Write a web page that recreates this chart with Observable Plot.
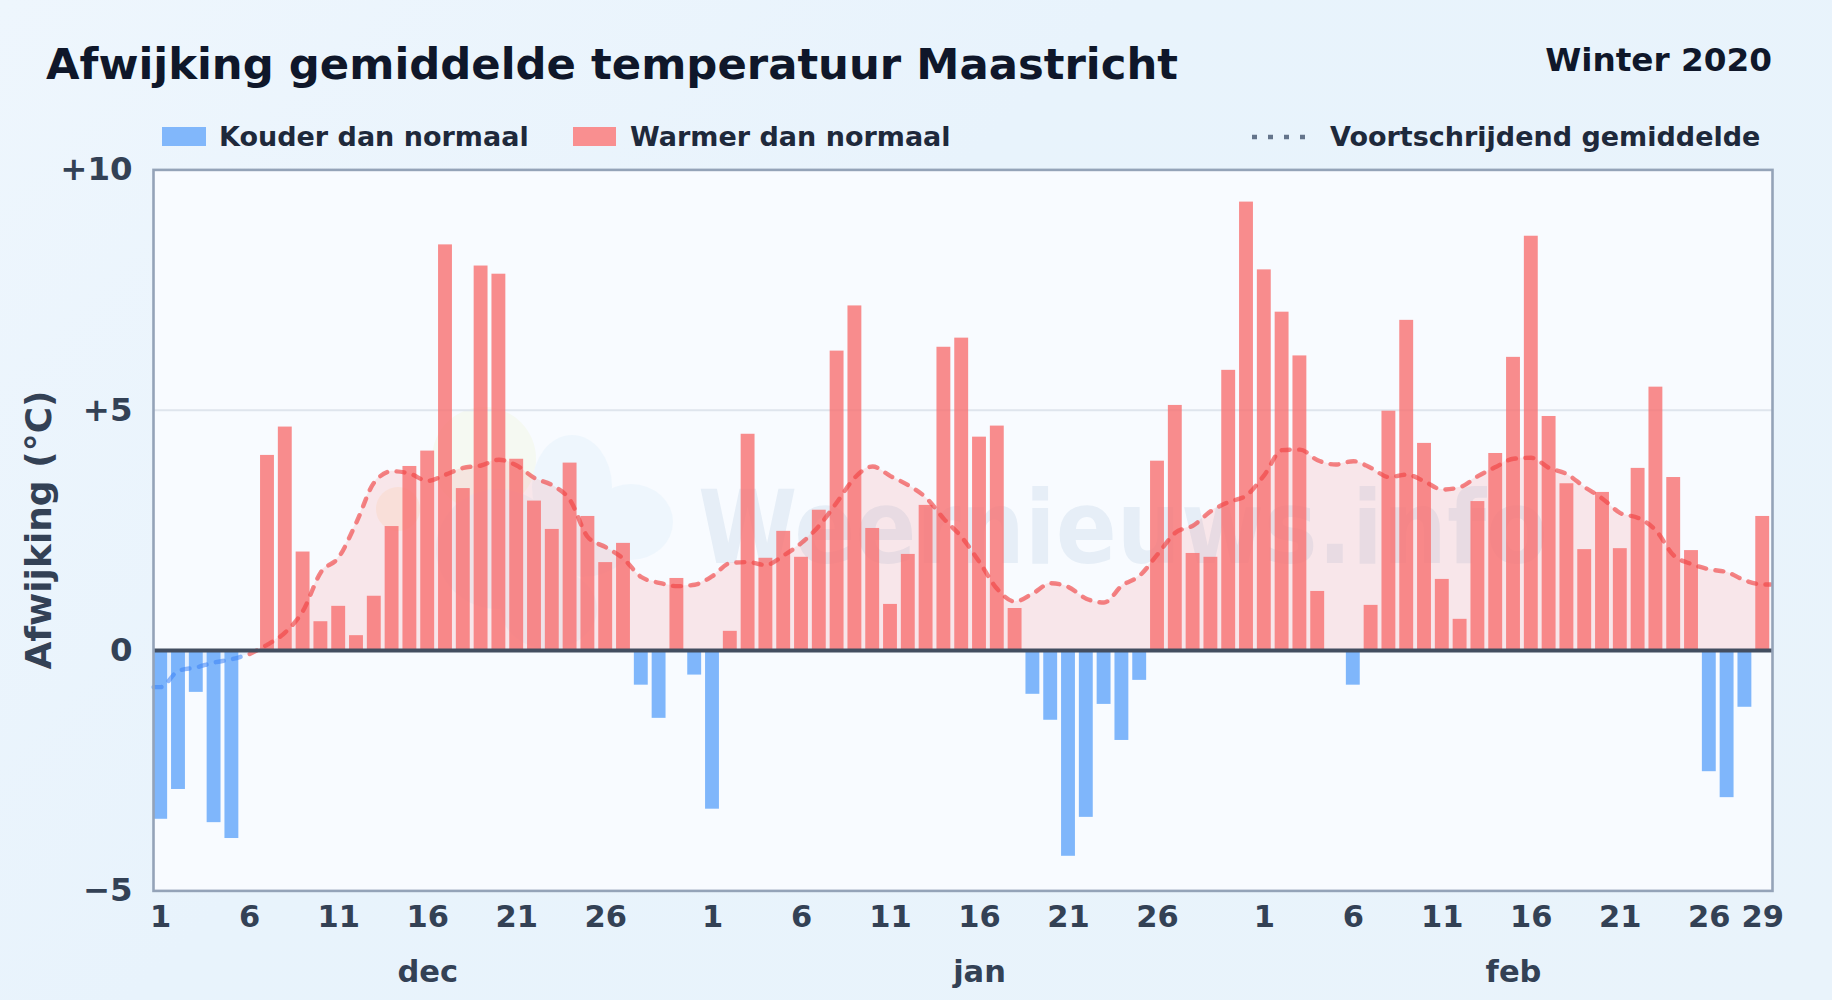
<!DOCTYPE html>
<html lang="nl">
<head>
<meta charset="utf-8">
<script src="https://cdn.jsdelivr.net/npm/d3@7"></script>
<script src="https://cdn.jsdelivr.net/npm/@observablehq/plot@0.6"></script>
<style>
  html,body{margin:0;padding:0;width:1832px;height:1000px;overflow:hidden;background:linear-gradient(135deg,#eef6fd 0%,#e8f3fc 40%,#e9f3fb 100%);font-family:"DejaVu Sans",sans-serif;font-weight:700}
  #page{position:relative;width:1832px;height:1000px}
  .a{position:absolute;white-space:nowrap;line-height:1}
  #title{left:46px;top:43px;font-size:43.35px;color:#0f172a}
  #period{right:60px;top:44px;font-size:32.7px;color:#0f172a}
  .lg{top:123px;font-size:27px;color:#1e293b}
  .sw{position:absolute;top:127px;height:19px}
  #bg{position:absolute;left:153px;top:169px;width:1619px;height:721px;background:#f8fbff;overflow:hidden}
  #chart{position:absolute;left:0;top:150.6px}
  #chart svg{display:block}
  #ylabel{position:absolute;left:0;top:0;width:0;height:0}
  #ylabel span{position:absolute;white-space:nowrap;font-size:36px;color:#334155;transform:translate(-50%,-50%) rotate(-90deg);left:38px;top:530px}
</style>
</head>
<body>
<div id="page">
  <div id="title" class="a">Afwijking gemiddelde temperatuur Maastricht</div>
  <div id="period" class="a">Winter 2020</div>
  <div class="sw" style="left:162px;width:44px;background:#81b7fb"></div>
  <div class="a lg" style="left:219px">Kouder dan normaal</div>
  <div class="sw" style="left:573px;width:43px;background:#f98f90"></div>
  <div class="a lg" style="left:630px">Warmer dan normaal</div>
  <svg class="a" style="left:1250px;top:130px" width="60" height="14"><line x1="2" x2="58" y1="7" y2="7" stroke="#64748b" stroke-width="4.5" stroke-dasharray="5 11"/></svg>
  <div class="a lg" style="left:1330px">Voortschrijdend gemiddelde</div>
  <div id="bg">
    <svg width="1619" height="721" style="position:absolute;left:0;top:0">
      <g opacity="0.5">
        <circle cx="331" cy="290" r="52" fill="#f4f8e6"/>
        <circle cx="245" cy="340" r="22" fill="#fcebd8"/>
        <g fill="#e6f3fd">
          <ellipse cx="419" cy="318" rx="40" ry="52"/>
          <ellipse cx="478" cy="353" rx="42" ry="38"/>
          <ellipse cx="430" cy="370" rx="50" ry="38"/>
          <ellipse cx="345" cy="380" rx="62" ry="60"/>
          <ellipse cx="396" cy="440" rx="48" ry="40"/>
        </g>
      </g>
      <text x="545" y="394" font-family="DejaVu Sans" font-size="102" font-weight="700" fill="#1e5a96" fill-opacity="0.08" textLength="850" lengthAdjust="spacingAndGlyphs">Weernieuws.info</text>
    </svg>
  </div>
  <div id="chart"></div>
  <div id="ylabel"><span>Afwijking (°C)</span></div>
</div>
<script>
const anomalies = [
  -3.51,-2.89,-0.87,-3.58,-3.91,0,4.06,4.65,2.05,0.6,0.92,0.31,1.13,2.58,3.83,4.15,8.44,3.37,8.0,7.83,3.98,3.11,2.52,3.9,2.79,1.83,2.23,-0.72,-1.41,1.5,-0.51,
  -3.3,0.4,4.5,1.92,2.48,1.94,2.92,6.23,7.17,2.54,0.96,2.0,3.02,6.31,6.5,4.44,4.67,0.875,-0.91,-1.45,-4.28,-3.47,-1.12,-1.87,-0.62,3.94,5.1,2.02,1.94,5.83,9.33,
  7.92,7.04,6.13,1.23,0,-0.72,0.94,4.98,6.87,4.31,1.48,0.65,3.1,4.1,6.1,8.62,4.87,3.47,2.1,3.29,2.12,3.79,5.48,3.6,2.08,-2.52,-3.06,-1.18,2.79
];
const rolling = [
  -0.76,-0.42,-0.35,-0.25,-0.18,-0.07,0.125,0.38,0.83,1.63,1.94,2.67,3.5,3.73,3.68,3.53,3.66,3.8,3.85,3.97,3.85,3.59,3.44,3.13,2.36,2.15,1.91,1.53,1.41,1.34,1.37,
  1.55,1.82,1.84,1.78,1.98,2.24,2.6,3.09,3.6,3.83,3.63,3.44,3.18,2.74,2.36,1.84,1.28,1.02,1.19,1.4,1.32,1.08,1.0,1.35,1.56,2.0,2.45,2.6,2.9,3.09,3.23,
  3.65,4.17,4.18,3.96,3.87,3.94,3.8,3.61,3.66,3.52,3.35,3.4,3.63,3.82,3.99,4.01,3.8,3.67,3.4,3.16,2.86,2.76,2.5,1.98,1.8,1.69,1.63,1.46,1.375
];
const tickDays = [0,5,10,15,20,25,31,36,41,46,51,56,62,67,72,77,82,87,90];
const tickLabels = ["1","6","11","16","21","26","1","6","11","16","21","26","1","6","11","16","21","26","29"];
const monthDays = [15,46,76];
const monthLabels = ["dec","jan","feb"];
const yTicks = [-5,0,5,10];
const yLabels = ["\u22125","0","+5","+10"];

const days = anomalies.map((v,i)=>({i,v,r:rolling[i]}));
// the running mean runs on to the frame edge at both ends
const coldLine = [{...days[0],i:-0.4},...days.slice(0,6)];
const warmLine = [...days.slice(5),{...days[90],i:90.45}];
const halfBar = 0.39;
const dash = "8 9.5";
const curve = "monotone-x";

const chart = Plot.plot({
  width:1832, height:850,
  marginTop:18.4, marginBottom:110.6, marginLeft:153, marginRight:60,
  x:{type:"linear",domain:[-0.404,90.55],axis:null},
  y:{domain:[-5,10],axis:null},
  style:{background:"transparent",fontFamily:"DejaVu Sans",overflow:"visible"},
  marks:[
    Plot.gridY([5],{stroke:"#dfe5ed",strokeOpacity:1,strokeWidth:2}),
    Plot.areaY(coldLine,{x:"i",y1:()=>0,y2:"r",fill:"#60a5fa",fillOpacity:0.12,curve}),
    Plot.areaY(warmLine,{x:"i",y1:()=>0,y2:"r",fill:"#f87171",fillOpacity:0.15,curve}),
    Plot.rect(days.filter(d=>d.v<0),{x1:d=>d.i-halfBar,x2:d=>d.i+halfBar,y1:()=>0,y2:"v",fill:"#60a5fa",fillOpacity:0.8}),
    Plot.rect(days.filter(d=>d.v>0),{x1:d=>d.i-halfBar,x2:d=>d.i+halfBar,y1:()=>0,y2:"v",fill:"#f87171",fillOpacity:0.8}),
    Plot.lineY(coldLine,{x:"i",y:"r",stroke:"#3b82f6",strokeOpacity:0.55,strokeWidth:4.4,strokeDasharray:dash,strokeLinecap:"round",curve}),
    Plot.lineY(warmLine,{x:"i",y:"r",stroke:"#ef4444",strokeOpacity:0.65,strokeWidth:4.4,strokeDasharray:dash,strokeLinecap:"round",curve}),
    Plot.ruleY([0],{stroke:"#434e60",strokeWidth:4}),
    Plot.frame({stroke:"#94a3b8",strokeWidth:2.6}),
    Plot.axisY({ticks:yTicks,tickFormat:d=>yLabels[yTicks.indexOf(d)],tickSize:0,tickPadding:21,label:null,fontSize:32.4,fontWeight:700,fill:"#334155"}),
    Plot.axisX({ticks:tickDays,tickFormat:d=>tickLabels[tickDays.indexOf(d)],tickSize:0,tickPadding:14,label:null,fontSize:30.5,fontWeight:700,fill:"#334155"}),
    Plot.text(monthDays,{x:d=>d,frameAnchor:"bottom",text:(d,i)=>monthLabels[i],dy:91,fontSize:30.5,fontWeight:700,fill:"#334155",lineAnchor:"bottom"})
  ]
});
document.getElementById("chart").appendChild(chart);
</script>
</body>
</html>
